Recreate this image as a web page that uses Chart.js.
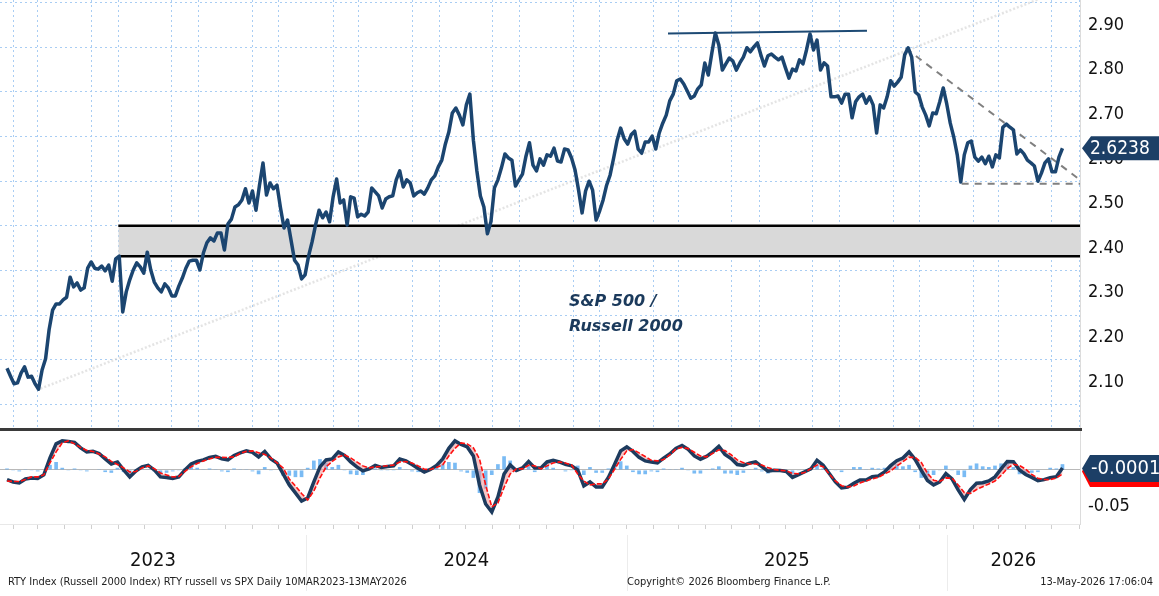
<!DOCTYPE html>
<html>
<head>
<meta charset="utf-8">
<title>RTY russell vs SPX</title>
<script src="https://cdn.jsdelivr.net/npm/chart.js@4.4.1/dist/chart.umd.min.js"></script>
<style>
  body { margin: 0; background: #fff; width: 1159px; height: 596px; overflow: hidden; position: relative; }
  canvas { position: absolute; left: 0; }
  #main { top: 0; }
  #osc { top: 431px; }
  .sep { position: absolute; left: 0; top: 428px; width: 1082px; height: 3px; background: #3a3a3a; }
  .note { position: absolute; left: 569px; top: 288px; font: italic bold 16px "DejaVu Sans", sans-serif; line-height: 25px; color: #1b3a5c; }
  .foot { position: absolute; top: 575px; font: 11px "DejaVu Sans Condensed", "DejaVu Sans", sans-serif; color: #222; white-space: nowrap; }
</style>
</head>
<body>
<canvas id="main" width="1159" height="428"></canvas>
<div class="sep"></div>
<canvas id="osc" width="1159" height="165"></canvas>
<div class="note">S&amp;P 500 /<br>Russell 2000</div>
<div class="foot" style="left:8px">RTY Index (Russell 2000 Index) RTY russell vs SPX Daily 10MAR2023-13MAY2026</div>
<div class="foot" style="left:627px">Copyright© 2026 Bloomberg Finance L.P.</div>
<div class="foot" style="right:6px">13-May-2026 17:06:04</div>
<script>
// ratio sampled every 4 days, oscillator every 7 days, both from startDate
const startDate = '2023-01-25';
const ratioStepDays = 4;
const oscStepDays = 7;
const axisStart = '2023-01-17';
const axisEnd = '2026-06-02';

const ratio = [
  2.131, 2.113, 2.096, 2.098, 2.120, 2.134, 2.111, 2.113, 2.096, 2.084,
  2.127, 2.152, 2.217, 2.261, 2.275, 2.275, 2.284, 2.290, 2.335, 2.313,
  2.322, 2.306, 2.311, 2.355, 2.369, 2.355, 2.353, 2.360, 2.349, 2.362,
  2.326, 2.376, 2.382, 2.257, 2.302, 2.329, 2.351, 2.367, 2.358, 2.344,
  2.391, 2.351, 2.324, 2.311, 2.302, 2.320, 2.311, 2.293, 2.293, 2.315,
  2.333, 2.355, 2.371, 2.373, 2.373, 2.351, 2.389, 2.412, 2.423, 2.416,
  2.434, 2.434, 2.396, 2.454, 2.465, 2.492, 2.497, 2.508, 2.533, 2.501,
  2.528, 2.485, 2.541, 2.591, 2.519, 2.546, 2.533, 2.541, 2.490, 2.445,
  2.463, 2.418, 2.373, 2.362, 2.331, 2.340, 2.382, 2.414, 2.452, 2.485,
  2.468, 2.481, 2.459, 2.515, 2.555, 2.501, 2.508, 2.452, 2.515, 2.512,
  2.470, 2.476, 2.472, 2.481, 2.535, 2.526, 2.517, 2.490, 2.510, 2.515,
  2.517, 2.553, 2.573, 2.537, 2.553, 2.546, 2.517, 2.524, 2.528, 2.521,
  2.535, 2.553, 2.562, 2.582, 2.597, 2.633, 2.660, 2.703, 2.714, 2.698,
  2.676, 2.721, 2.745, 2.642, 2.573, 2.517, 2.492, 2.432, 2.459, 2.535,
  2.553, 2.580, 2.611, 2.602, 2.597, 2.539, 2.553, 2.566, 2.606, 2.636,
  2.586, 2.573, 2.600, 2.586, 2.609, 2.606, 2.624, 2.595, 2.593, 2.622,
  2.620, 2.602, 2.575, 2.530, 2.479, 2.528, 2.550, 2.530, 2.463, 2.483,
  2.508, 2.541, 2.564, 2.602, 2.642, 2.669, 2.645, 2.633, 2.654, 2.662,
  2.622, 2.613, 2.638, 2.638, 2.651, 2.622, 2.658, 2.680, 2.698, 2.730,
  2.745, 2.775, 2.779, 2.768, 2.752, 2.736, 2.741, 2.757, 2.766, 2.815,
  2.788, 2.837, 2.882, 2.855, 2.799, 2.813, 2.826, 2.819, 2.799, 2.815,
  2.828, 2.849, 2.840, 2.851, 2.860, 2.833, 2.808, 2.831, 2.835, 2.828,
  2.822, 2.828, 2.804, 2.781, 2.801, 2.797, 2.822, 2.813, 2.844, 2.880,
  2.844, 2.866, 2.799, 2.815, 2.808, 2.739, 2.739, 2.741, 2.725, 2.745,
  2.745, 2.692, 2.728, 2.739, 2.745, 2.725, 2.739, 2.721, 2.658, 2.721,
  2.714, 2.739, 2.775, 2.763, 2.772, 2.783, 2.833, 2.849, 2.828, 2.750,
  2.743, 2.716, 2.698, 2.674, 2.703, 2.701, 2.728, 2.759, 2.723, 2.680,
  2.649, 2.609, 2.548, 2.609, 2.636, 2.640, 2.604, 2.595, 2.604, 2.589,
  2.606, 2.582, 2.609, 2.602, 2.671, 2.678, 2.671, 2.665, 2.611, 2.620,
  2.611, 2.597, 2.591, 2.584, 2.550, 2.568, 2.591, 2.600, 2.571, 2.571,
  2.604, 2.6238
];

const macd = [
  -0.0133, -0.0167, -0.0181, -0.0125, -0.0111, -0.0118, -0.0069, 0.0167, 0.0361, 0.0403,
  0.0396, 0.0382, 0.0306, 0.0250, 0.0258, 0.0229, 0.0153, 0.0083, 0.0111, 0.0000,
  -0.0097, -0.0014, 0.0042, 0.0063, 0.0000, -0.0097, -0.0104, -0.0118, -0.0097, 0.0000,
  0.0083, 0.0118, 0.0139, 0.0174, 0.0188, 0.0153, 0.0139, 0.0201, 0.0236, 0.0264,
  0.0243, 0.0181, 0.0257, 0.0153, 0.0097, -0.0056, -0.0208, -0.0319, -0.0431, -0.0389,
  -0.0167, 0.0042, 0.0139, 0.0153, 0.0250, 0.0201, 0.0111, 0.0042, -0.0014, 0.0014,
  0.0063, 0.0035, 0.0047, 0.0056, 0.0153, 0.0125, 0.0076, 0.0021, -0.0028, 0.0007,
  0.0063, 0.0153, 0.0299, 0.0403, 0.0354, 0.0319, 0.0194, -0.0208, -0.0472, -0.0583,
  -0.0375, -0.0056, 0.0069, -0.0007, 0.0028, 0.0118, 0.0028, 0.0028, 0.0111, 0.0132,
  0.0111, 0.0076, 0.0056, 0.0000, -0.0222, -0.0167, -0.0236, -0.0236, -0.0104, 0.0076,
  0.0264, 0.0319, 0.0257, 0.0174, 0.0125, 0.0111, 0.0097, 0.0163, 0.0222, 0.0299,
  0.0340, 0.0285, 0.0194, 0.0149, 0.0188, 0.0250, 0.0326, 0.0215, 0.0157, 0.0074,
  0.0063, 0.0094, 0.0111, 0.0046, -0.0018, -0.0006, -0.0008, -0.0021, -0.0104, -0.0065,
  -0.0025, 0.0014, 0.0133, 0.0065, -0.0049, -0.0167, -0.0250, -0.0239, -0.0185, -0.0139,
  -0.0139, -0.0094, -0.0083, -0.0028, 0.0060, 0.0128, 0.0165, 0.0250, 0.0144, -0.0007,
  -0.0146, -0.0208, -0.0167, -0.0051, -0.0125, -0.0278, -0.0410, -0.0271, -0.0185, -0.0178,
  -0.0153, -0.0097, 0.0014, 0.0118, 0.0115, 0.0000, -0.0063, -0.0104, -0.0149, -0.0135,
  -0.0107, -0.0093, 0.0028
];

const signal = [
  -0.0153, -0.0160, -0.0160, -0.0132, -0.0097, -0.0097, -0.0069, 0.0097, 0.0250, 0.0375,
  0.0403, 0.0361, 0.0313, 0.0271, 0.0257, 0.0222, 0.0181, 0.0118, 0.0076, 0.0028,
  -0.0028, -0.0021, 0.0028, 0.0056, 0.0018, -0.0042, -0.0069, -0.0097, -0.0090, -0.0021,
  0.0042, 0.0090, 0.0125, 0.0153, 0.0174, 0.0174, 0.0172, 0.0181, 0.0229, 0.0257,
  0.0264, 0.0239, 0.0215, 0.0167, 0.0097, 0.0028, -0.0125, -0.0222, -0.0326, -0.0417,
  -0.0292, -0.0111, 0.0042, 0.0118, 0.0181, 0.0208, 0.0167, 0.0111, 0.0056, 0.0028,
  0.0042, 0.0049, 0.0058, 0.0067, 0.0111, 0.0115, 0.0097, 0.0056, 0.0010, 0.0006,
  0.0035, 0.0069, 0.0194, 0.0299, 0.0375, 0.0361, 0.0306, 0.0153, -0.0208, -0.0514,
  -0.0458, -0.0243, -0.0056, 0.0014, 0.0014, 0.0065, 0.0056, 0.0014, 0.0056, 0.0097,
  0.0111, 0.0097, 0.0069, -0.0056, -0.0153, -0.0208, -0.0194, -0.0194, -0.0125, 0.0007,
  0.0146, 0.0264, 0.0283, 0.0236, 0.0186, 0.0133, 0.0125, 0.0143, 0.0208, 0.0289,
  0.0313, 0.0296, 0.0246, 0.0194, 0.0181, 0.0229, 0.0278, 0.0268, 0.0211, 0.0139,
  0.0101, 0.0083, 0.0083, 0.0068, 0.0033, 0.0006, -0.0006, -0.0013, -0.0047, -0.0053,
  -0.0036, 0.0019, 0.0067, 0.0046, -0.0056, -0.0153, -0.0219, -0.0236, -0.0222, -0.0181,
  -0.0153, -0.0125, -0.0103, -0.0056, -0.0014, 0.0053, 0.0114, 0.0176, 0.0174, 0.0104,
  -0.0046, -0.0142, -0.0160, -0.0111, -0.0114, -0.0208, -0.0313, -0.0326, -0.0272, -0.0232,
  -0.0194, -0.0153, -0.0076, 0.0019, 0.0078, 0.0061, 0.0011, -0.0061, -0.0115, -0.0132,
  -0.0135, -0.0111, -0.0056
];

const hist = [
  0.002, -0.001, -0.002, 0.001, -0.001, -0.002, 0, 0.007, 0.011, 0.003,
  -0.001, 0.002, -0.001, -0.002, 0, 0.001, -0.003, -0.004, 0.003, -0.003,
  -0.007, 0.001, 0.001, 0.001, -0.002, -0.006, -0.004, -0.002, -0.001, 0.002,
  0.004, 0.003, 0.001, 0.002, 0.001, -0.002, -0.003, 0.002, 0.001, 0.001,
  -0.002, -0.006, 0.004, -0.001, 0, -0.008, -0.008, -0.010, -0.010, 0.003,
  0.013, 0.015, 0.010, 0.004, 0.007, -0.001, -0.006, -0.007, -0.007, -0.001,
  0.002, -0.001, -0.001, -0.001, 0.004, 0.001, -0.002, -0.003, -0.004, 0,
  0.003, 0.008, 0.011, 0.010, -0.002, -0.004, -0.011, -0.032, -0.026, -0.007,
  0.008, 0.019, 0.013, -0.002, 0.001, 0.005, -0.003, 0.001, 0.006, 0.003,
  0, -0.002, -0.001, 0.006, -0.007, 0.004, -0.004, -0.004, 0.002, 0.007,
  0.012, 0.006, -0.003, -0.006, -0.006, -0.002, -0.003, 0.002, 0.001, 0.001,
  0.003, -0.001, -0.005, -0.005, 0.001, 0.002, 0.005, -0.005, -0.005, -0.007,
  -0.004, 0.001, 0.003, -0.002, -0.005, -0.001, 0, -0.001, -0.006, -0.001,
  0.001, 0, 0.007, 0.002, 0.001, -0.001, -0.003, 0, 0.004, 0.004,
  0.001, 0.003, 0.002, 0.003, 0.007, 0.008, 0.005, 0.007, -0.003, -0.011,
  -0.010, -0.007, -0.001, 0.006, -0.001, -0.007, -0.010, 0.006, 0.009, 0.005,
  0.004, 0.006, 0.009, 0.010, 0.004, -0.006, -0.007, -0.004, -0.003, 0,
  0.003, 0.002, 0.008
];
const macdLast = -0.0001;

// drawn levels and trend lines
const bandLevels = [2.382, 2.45];
const bandDates = ['2023-06-01', '2026-06-02'];
const topLineDates = ['2025-02-17', '2025-10-02'];
const topLineValues = [2.881, 2.887];
const downTrendDates = ['2025-11-15', '2026-06-02'];
const downTrendValues = [2.848, 2.553];
const supportDates = ['2026-01-18', '2026-06-02'];
const supportValues = [2.544, 2.544];
const riseTrendDates = ['2023-02-28', '2026-06-02'];
const riseTrendValues = [2.082, 2.994];

const yTicks = [2.05, 2.10, 2.15, 2.20, 2.25, 2.30, 2.35, 2.40, 2.45, 2.50,
  2.55, 2.60, 2.65, 2.70, 2.75, 2.80, 2.85, 2.90, 2.95];
const oscTicks = [-0.05, 0];
const years = [2023, 2024, 2025, 2026];

const FONT = '"DejaVu Sans Condensed", "DejaVu Sans", sans-serif';
const NAVY = '#1b4570';
const GRID = '#a9cdf3';

const dayOf = s => {
  const [y, m, d] = s.split('-').map(Number);
  return (Date.UTC(y, m - 1, d) - Date.UTC(2023, 0, 1)) / 864e5;
};
const xMin = dayOf(axisStart);
const xMax = dayOf(axisEnd);
const startDay = dayOf(startDate);
const pts = (arr, step) => arr.map((v, i) => ({ x: startDay + step * i, y: v }));
const seg = (dates, vals) => dates.map((d, i) => ({ x: dayOf(d), y: vals[i] }));

const allMonths = [];
const gridMonths = [];
for (const y of years) {
  for (let m = 1; m <= 12; m++) {
    const d = dayOf(y + '-' + String(m).padStart(2, '0') + '-01');
    if (d < xMin || d > xMax) continue;
    allMonths.push(d);
    if ((m - 1) % 3 !== 0) gridMonths.push(d);
  }
}
const isTenth = v => Math.round(v * 100) % 10 === 0;

const lineBase = { pointRadius: 0, tension: 0, fill: false };

const mainBox = {
  id: 'mainBox',
  afterDraw(chart) {
    const { ctx, chartArea } = chart;
    const last = ratio[ratio.length - 1];
    const y = chart.scales.y.getPixelForValue(last);
    const l = chartArea.right + 2;
    ctx.save();
    ctx.fillStyle = '#1c3f66';
    ctx.beginPath();
    ctx.moveTo(l, y);
    ctx.lineTo(l + 9, y - 12);
    ctx.lineTo(1159, y - 12);
    ctx.lineTo(1159, y + 12);
    ctx.lineTo(l + 9, y + 12);
    ctx.closePath();
    ctx.fill();
    ctx.fillStyle = '#fff';
    ctx.font = '19px ' + FONT;
    ctx.textBaseline = 'middle';
    ctx.fillText(last.toFixed(4), l + 8, y + 1);
    ctx.restore();
  }
};

new Chart(document.getElementById('main'), {
  type: 'line',
  data: {
    datasets: [
      { ...lineBase, data: pts(ratio, ratioStepDays), borderColor: NAVY, borderWidth: 3.5, borderJoinStyle: 'round', order: 0 },
      { ...lineBase, data: seg(bandDates, [bandLevels[1], bandLevels[1]]), borderColor: '#000', borderWidth: 2.5, order: 5 },
      { ...lineBase, data: seg(bandDates, [bandLevels[0], bandLevels[0]]), borderColor: '#000', borderWidth: 2.5, order: 5,
        fill: '-1', backgroundColor: '#d9d9d9' },
      { ...lineBase, data: seg(topLineDates, topLineValues), borderColor: '#1d4a74', borderWidth: 2, order: 3 },
      { ...lineBase, data: seg(downTrendDates, downTrendValues), borderColor: '#808080', borderWidth: 2, borderDash: [7, 6], order: 3 },
      { ...lineBase, data: seg(supportDates, supportValues), borderColor: '#808080', borderWidth: 2, borderDash: [7, 6], order: 3 },
      { ...lineBase, data: seg(riseTrendDates, riseTrendValues), borderColor: 'rgba(205,205,205,0.55)', borderWidth: 2.5, borderDash: [2, 2], order: 9 }
    ]
  },
  options: {
    responsive: false,
    animation: false,
    devicePixelRatio: 1,
    layout: { padding: 0, autoPadding: false },
    plugins: { legend: { display: false }, tooltip: { enabled: false } },
    scales: {
      x: {
        type: 'linear', min: xMin, max: xMax,
        afterBuildTicks: s => { s.ticks = gridMonths.map(v => ({ value: v })); },
        ticks: { display: false },
        grid: { color: GRID, drawTicks: false },
        border: { display: false, dash: [2, 3] },
        afterFit: s => { s.height = 0; s.paddingLeft = 0; s.paddingRight = 0; }
      },
      y: {
        position: 'right', min: 1.997, max: 2.956,
        afterBuildTicks: s => { s.ticks = yTicks.map(v => ({ value: v })); },
        ticks: {
          autoSkip: false, padding: 8, color: '#111',
          font: { family: FONT, size: 18 },
          callback: v => isTenth(v) ? v.toFixed(2) : ''
        },
        grid: {
          drawTicks: false, tickLength: 0,
          color: c => (c.tick && !isTenth(c.tick.value)) ? GRID : 'rgba(0,0,0,0)'
        },
        border: { color: '#dcdcdc', dash: [2, 3] },
        afterFit: s => { s.width = 79; s.paddingTop = 0; s.paddingBottom = 0; }
      }
    }
  },
  plugins: [mainBox]
});

const oscExtras = {
  id: 'oscExtras',
  afterDraw(chart) {
    const { ctx, chartArea } = chart;
    const xs = chart.scales.x;
    ctx.save();
    // year separators and labels
    ctx.strokeStyle = '#ececec';
    ctx.lineWidth = 1;
    ctx.fillStyle = '#111';
    ctx.font = '20px ' + FONT;
    ctx.textAlign = 'center';
    ctx.textBaseline = 'middle';
    for (const y of years) {
      const a = Math.max(dayOf(y + '-01-01'), xMin);
      const b = Math.min(dayOf((y + 1) + '-01-01'), xMax);
      if (y > years[0]) {
        const px = Math.round(xs.getPixelForValue(a)) + 0.5;
        ctx.beginPath();
        ctx.moveTo(px, 104);
        ctx.lineTo(px, 160);
        ctx.stroke();
      }
      ctx.fillText(String(y), (xs.getPixelForValue(a) + xs.getPixelForValue(b)) / 2, 130);
    }
    // last value box
    const yv = chart.scales.y.getPixelForValue(macdLast);
    const l = chartArea.right + 2;
    const chevron = (top, bot, color) => {
      ctx.fillStyle = color;
      ctx.beginPath();
      ctx.moveTo(l, (top + bot) / 2);
      ctx.lineTo(l + 8, top);
      ctx.lineTo(1159, top);
      ctx.lineTo(1159, bot);
      ctx.lineTo(l + 8, bot);
      ctx.closePath();
      ctx.fill();
    };
    chevron(yv - 14, yv + 17, '#ff0000');
    chevron(yv - 15, yv + 12, '#1c3f66');
    ctx.fillStyle = '#fff';
    ctx.font = '20px ' + FONT;
    ctx.textAlign = 'left';
    ctx.fillText(macdLast.toFixed(4), l + 9, yv - 1);
    ctx.restore();
  }
};

new Chart(document.getElementById('osc'), {
  type: 'bar',
  data: {
    datasets: [
      { type: 'bar', data: pts(hist, oscStepDays), backgroundColor: 'rgba(78,164,240,0.75)', barPercentage: 0.6, categoryPercentage: 1, order: 3 },
      { type: 'line', ...lineBase, data: pts(macd, oscStepDays), borderColor: '#1d3b5e', borderWidth: 3.5, order: 1,
        fill: { target: 2, above: 'rgba(240,150,150,0.55)', below: 'rgba(240,150,150,0.55)' } },
      { type: 'line', ...lineBase, data: pts(signal, oscStepDays), borderColor: '#ff1010', borderWidth: 1.6, borderDash: [5, 2], order: 0 }
    ]
  },
  options: {
    responsive: false,
    animation: false,
    devicePixelRatio: 1,
    layout: { padding: 0, autoPadding: false },
    plugins: { legend: { display: false }, tooltip: { enabled: false } },
    scales: {
      x: {
        type: 'linear', min: xMin, max: xMax, offset: false,
        afterBuildTicks: s => { s.ticks = allMonths.map(v => ({ value: v })); },
        ticks: { display: false },
        grid: { offset: false, drawOnChartArea: false, drawTicks: true, tickLength: 5, tickColor: '#cfcfcf', color: '#cfcfcf' },
        border: { display: true, color: '#e8e8e8' },
        afterFit: s => { s.height = 72; s.paddingLeft = 0; s.paddingRight = 0; }
      },
      y: {
        position: 'right', min: -0.075, max: 0.054,
        afterBuildTicks: s => { s.ticks = oscTicks.map(v => ({ value: v })); },
        ticks: {
          autoSkip: false, padding: 8, color: '#111',
          font: { family: FONT, size: 18 },
          callback: v => v < 0 ? v.toFixed(2) : ''
        },
        grid: {
          drawTicks: false, tickLength: 0,
          color: c => (c.tick && c.tick.value === 0) ? '#b9b9b9' : 'rgba(0,0,0,0)'
        },
        border: { color: '#dcdcdc' },
        afterFit: s => { s.width = 79; s.paddingTop = 0; s.paddingBottom = 0; }
      }
    }
  },
  plugins: [oscExtras]
});
</script>
</body>
</html>
